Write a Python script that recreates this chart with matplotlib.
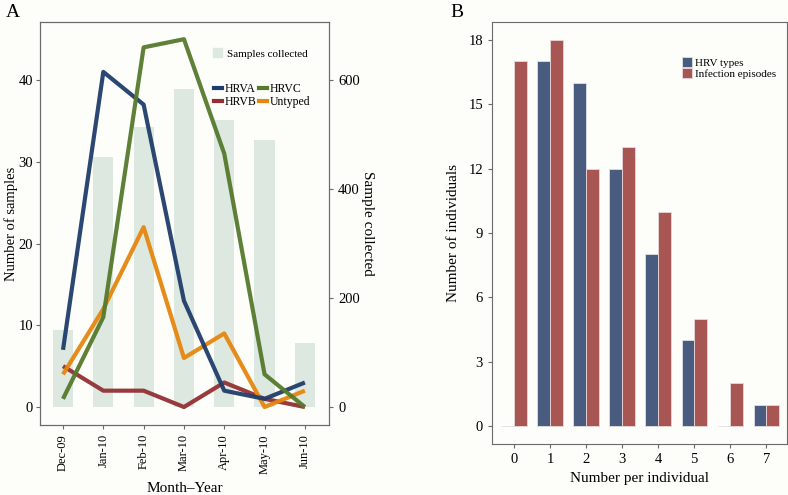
import numpy as np
import matplotlib
matplotlib.use('Agg')
import matplotlib.pyplot as plt
from matplotlib.patches import Patch
from matplotlib.lines import Line2D

plt.rcParams['font.family'] = ['Liberation Serif', 'DejaVu Serif']

# panel A data
months = ['Dec-09', 'Jan-10', 'Feb-10', 'Mar-10', 'Apr-10', 'May-10', 'Jun-10']
samples = [141, 459, 514, 583, 527, 490, 117]
hrva = [7, 41, 37, 13, 2, 1, 3]
hrvb = [5, 2, 2, 0, 3, 1, 0]
hrvc = [1, 11, 44, 45, 31, 4, 0]
untyped = [4, 12, 22, 6, 9, 0, 2]

# panel B data
per_ind = [0, 1, 2, 3, 4, 5, 6, 7]
hrv_types = [0, 17, 16, 12, 8, 4, 0, 1]
episodes = [17, 18, 12, 13, 10, 5, 2, 1]

bg = '#fdfdfa'
spine_c = '#6a6a6a'
fig = plt.figure(figsize=(7.88, 4.95), dpi=100, facecolor=bg)

# ---- A ----
ax = fig.add_axes([0.0508, 0.1414, 0.3668, 0.8141], facecolor=bg)
ax2 = ax.twinx()
x = np.arange(len(months))
ax2.bar(x, samples, width=0.5, color='#dce8e0', zorder=1)
ax2.set_ylim(-33, 706)
ax2.set_yticks([0, 200, 400, 600])
ax2.set_ylabel('Sample collected', rotation=270, labelpad=10, fontsize=11)
ax.set_zorder(ax2.get_zorder() + 1)
ax.patch.set_visible(False)
ax2.set_facecolor(bg)
ax2.patch.set_visible(True)

cols = {'HRVA': '#1f3d6b', 'HRVB': '#943034', 'HRVC': '#557a2c', 'Untyped': '#e5860f'}
for name, vals in [('HRVB', hrvb), ('Untyped', untyped), ('HRVA', hrva), ('HRVC', hrvc)]:
    ax.plot(x, vals, color=cols[name], lw=3, solid_capstyle='butt', alpha=0.95)
ax.set_ylim(-2.2, 47.1)
ax.set_xlim(-0.57, 6.6)
ax.set_yticks([0, 10, 20, 30, 40])
ax.set_xticks(x)
ax.set_xticklabels(months, rotation=90)
ax.set_ylabel('Number of samples', fontsize=10.5, labelpad=0)
ax.set_xlabel('Month\u2013Year', fontsize=11, labelpad=6)
for a in (ax, ax2):
    a.tick_params(labelsize=10.5, color=spine_c, length=3)
    for s in a.spines.values():
        s.set_color(spine_c)
ax.tick_params(axis='x', labelsize=9)
ax.tick_params(axis='y', pad=2)

leg1 = ax.legend(handles=[Patch(color='#dce8e0')], labels=['Samples collected'],
                 loc='upper left', bbox_to_anchor=(0.565, 0.96), frameon=False,
                 fontsize=8, handlelength=0.8, handleheight=0.9, handletextpad=0.4)
ax.add_artist(leg1)
hs = [Line2D([], [], color=cols[n], lw=3) for n in ['HRVA', 'HRVB', 'HRVC', 'Untyped']]
ax.legend(handles=hs, labels=['HRVA', 'HRVB', 'HRVC', 'Untyped'], ncol=2,
          loc='upper left', bbox_to_anchor=(0.565, 0.875), frameon=False, fontsize=8.5,
          handlelength=0.7, handletextpad=0.2, columnspacing=0.2, labelspacing=0.1)
fig.text(0.008, 0.965, 'A', fontsize=14)

# ---- B ----
bx = fig.add_axes([0.6244, 0.103, 0.3744, 0.8525], facecolor=bg)
w = 0.35
xb = np.array(per_ind)
bx.bar(xb - w / 2, hrv_types, width=w, color='#4a5b80', edgecolor='#e0dfe6', lw=0.6, label='HRV types')
bx.bar(xb + w / 2, episodes, width=w, color='#a85653', edgecolor='#e8d8d8', lw=0.6, label='Infection episodes')
bx.set_xlim(-0.61, 7.58)
bx.set_ylim(-0.84, 18.84)
bx.set_yticks([0, 3, 6, 9, 12, 15, 18])
bx.set_xticks(xb)
bx.tick_params(labelsize=10.5, color=spine_c, length=3)
for s in bx.spines.values():
    s.set_color(spine_c)
bx.set_ylabel('Number of individuals', fontsize=11, labelpad=6)
bx.set_xlabel('Number per individual', fontsize=11, labelpad=4)
bx.legend(loc='upper left', bbox_to_anchor=(0.61, 0.94), frameon=False, fontsize=8,
          handlelength=0.9, handleheight=0.9, handletextpad=0.3, labelspacing=0.05)
fig.text(0.571, 0.965, 'B', fontsize=14)

fig.savefig('out.png', dpi=100, facecolor=bg)
